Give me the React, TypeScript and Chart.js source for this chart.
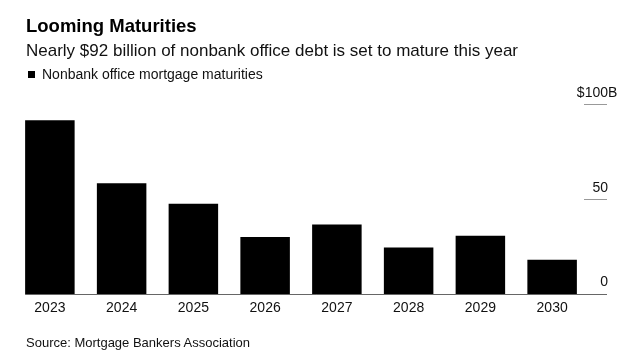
import React, { useEffect, useRef } from "react";
import { Chart, registerables } from "chart.js";

Chart.register(...registerables);

const title = "Looming Maturities";
const subtitle = "Nearly $92 billion of nonbank office debt is set to mature this year";
const seriesName = "Nonbank office mortgage maturities";
const source = "Source: Mortgage Bankers Association";

const categories = ["2023", "2024", "2025", "2026", "2027", "2028", "2029", "2030"];
const maturities = [91.5, 58.3, 47.5, 30.0, 36.6, 24.5, 30.6, 18.0];
const yTicks = [0, 50, 100];
const yTickLabels = ["0", "50", "$100B"];

const FONT = '"Liberation Sans", Arial, Helvetica, sans-serif';

const axisPlugin = {
  id: "rightAxis",
  afterDraw(chart: any) {
    const { ctx } = chart;
    const y = chart.scales.y;
    const area = chart.chartArea;
    const base = y.getPixelForValue(0);
    const firstBar = chart.getDatasetMeta(0).data[0];
    const startX = firstBar ? firstBar.x - firstBar.width / 2 : area.left;
    ctx.save();
    // baseline
    ctx.strokeStyle = "#666";
    ctx.lineWidth = 1;
    ctx.beginPath();
    ctx.moveTo(startX, Math.round(base) + 0.5);
    ctx.lineTo(607, Math.round(base) + 0.5);
    ctx.stroke();
    // tick segments and labels
    ctx.font = "14px " + FONT;
    ctx.fillStyle = "#111";
    ctx.textBaseline = "alphabetic";
    yTicks.forEach((v, i) => {
      const py = Math.round(y.getPixelForValue(v)) + 0.5;
      if (v !== 0) {
        ctx.strokeStyle = "#999";
        ctx.beginPath();
        ctx.moveTo(584, py);
        ctx.lineTo(607, py);
        ctx.stroke();
      }
      const label = yTickLabels[i];
      ctx.textAlign = "right";
      let x = 608;
      if (label.endsWith("B")) x += ctx.measureText("B").width;
      ctx.fillText(label, x, py - (v === 0 ? 9 : 7.5));
    });
    ctx.restore();
  },
};

export default function App() {
  const ref = useRef<HTMLCanvasElement>(null);
  useEffect(() => {
    const chart = new Chart(ref.current as HTMLCanvasElement, {
      type: "bar",
      data: {
        labels: categories,
        datasets: [
          {
            label: seriesName,
            data: maturities,
            backgroundColor: "#000",
            borderWidth: 0,
            categoryPercentage: 1,
            barPercentage: 0.69,
          },
        ],
      },
      options: {
        animation: false,
        responsive: false,
        maintainAspectRatio: false,
        layout: { padding: { left: 14, right: 48, top: 104, bottom: 32 } },
        plugins: { legend: { display: false }, tooltip: { enabled: false } },
        scales: {
          x: {
            grid: { display: false, drawTicks: false },
            border: { display: false },
            ticks: { color: "#111", font: { family: FONT, size: 14 }, padding: 6 },
            afterFit(scale: any) {
              scale.height = 30;
            },
          },
          y: { display: false, min: 0, max: 100 },
        },
      },
      plugins: [axisPlugin],
    });
    return () => chart.destroy();
  }, []);

  const txt: React.CSSProperties = {
    position: "absolute",
    whiteSpace: "nowrap",
    lineHeight: 1,
    fontFamily: FONT,
    color: "#111",
    margin: 0,
  };

  return (
    <div style={{ position: "fixed", left: 0, top: 0, width: 636, height: 356, background: "#fff" }}>
      <canvas ref={ref} width={636} height={356} style={{ position: "absolute", left: 0, top: 0 }} />
      <div style={{ ...txt, left: 26, top: 16.6, fontSize: 18.5, fontWeight: 700, color: "#000" }}>{title}</div>
      <div style={{ ...txt, left: 26, top: 41.6, fontSize: 17 }}>{subtitle}</div>
      <div style={{ position: "absolute", left: 28, top: 71, width: 7, height: 7, background: "#000" }} />
      <div style={{ ...txt, left: 42, top: 67.2, fontSize: 14 }}>{seriesName}</div>
      <div style={{ ...txt, left: 26, top: 335.7, fontSize: 13 }}>{source}</div>
    </div>
  );
}
